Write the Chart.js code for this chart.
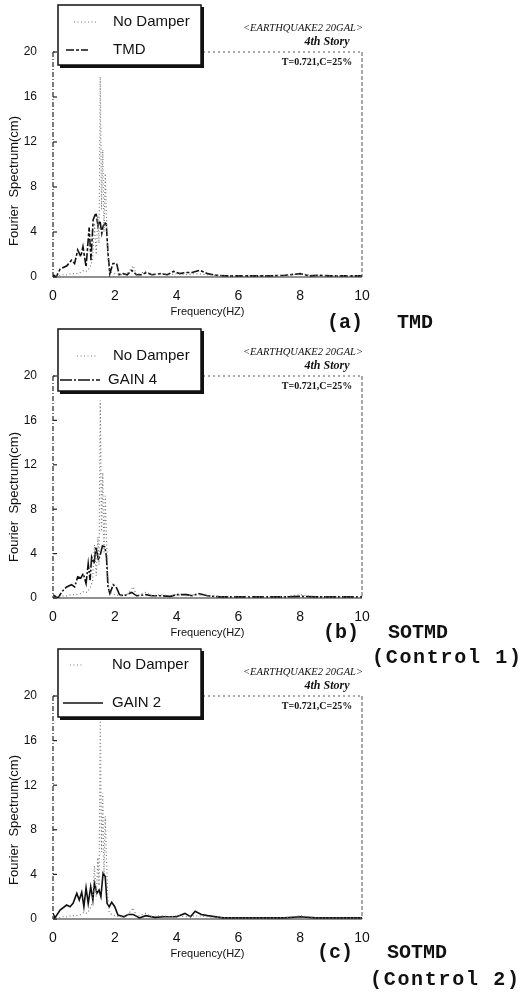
<!DOCTYPE html>
<html>
<head>
<meta charset="utf-8">
<script src="https://cdn.jsdelivr.net/npm/chart.js@4.4.1/dist/chart.umd.min.js"></script>
<style>
  html, body { margin: 0; padding: 0; background: #fff; }
  #wrap { position: relative; width: 526px; height: 996px; overflow: hidden; }
  canvas { position: absolute; left: 0; }
  .cap { position: absolute; font: bold 20px "Liberation Mono", "Courier New", monospace;
         color: #111; white-space: pre; line-height: 22px; }
</style>
</head>
<body>
<div id="wrap">
  <canvas id="chartA" width="526" height="322" style="top:0px"></canvas>
  <canvas id="chartB" width="526" height="320" style="top:322px"></canvas>
  <canvas id="chartC" width="526" height="354" style="top:642px"></canvas>

  <div class="cap" style="left:327px;top:312px">(a)</div>
  <div class="cap" style="left:397px;top:312px">TMD</div>
  <div class="cap" style="left:323px;top:622px">(b)</div>
  <div class="cap" style="left:388px;top:622px">SOTMD</div>
  <div class="cap" style="left:372px;top:647px;letter-spacing:1.7px">(Control 1)</div>
  <div class="cap" style="left:317px;top:942px">(c)</div>
  <div class="cap" style="left:387px;top:942px">SOTMD</div>
  <div class="cap" style="left:370px;top:969px;letter-spacing:1.7px">(Control 2)</div>
</div>

<script>
// Fourier spectra, 4th story, EARTHQUAKE2 20GAL
const xTicks = [0, 2, 4, 6, 8, 10];
const yTicks = [0, 4, 8, 12, 16, 20];

// uncontrolled response (same in all three panels)
const freqNoDamper = [0, 0.1, 0.2, 0.3, 0.45, 0.6, 0.75, 0.9, 1.0, 1.1, 1.2, 1.28, 1.34, 1.4, 1.45, 1.49,
  1.53, 1.57, 1.61, 1.65, 1.69, 1.73, 1.77, 1.82, 1.9, 2.0, 2.2, 2.4, 2.6, 2.7, 3.0, 3.2, 3.5, 3.8, 4.0,
  4.3, 4.6, 5.0, 5.5, 6.0, 6.5, 7.0, 7.5, 8.0, 8.5, 9.0, 9.5, 10];
const noDamper = [0.3, 0.1, 0.1, 0.2, 0.2, 0.3, 0.3, 0.4, 0.6, 0.5, 0.9, 1.5, 4.8, 2.0, 5.5, 3.0,
  17.8, 6.0, 11.3, 4.0, 9.2, 5.5, 2.0, 0.6, 0.4, 0.3, 0.2, 0.3, 1.0, 0.2, 0.5, 0.2, 0.3, 0.2, 0.3,
  0.2, 0.3, 0.2, 0.1, 0.1, 0.1, 0.1, 0.1, 0.3, 0.1, 0.1, 0.1, 0.1];

// (a) TMD
const freqTmd = [0, 0.1, 0.23, 0.45, 0.6, 0.7, 0.8, 0.9, 0.97, 1.07, 1.17, 1.23, 1.3, 1.39, 1.46, 1.52,
  1.58, 1.62, 1.72, 1.78, 1.84, 1.94, 2.06, 2.14, 2.27, 2.4, 2.55, 2.7, 2.85, 3.03, 3.2, 3.5, 3.7, 3.9,
  4.1, 4.3, 4.5, 4.75, 5.0, 5.3, 5.6, 6.0, 6.5, 7.0, 7.5, 8.0, 8.3, 8.6, 9.0, 9.5, 10];
const tmd = [0.2, 0.0, 0.7, 1.0, 1.5, 1.2, 2.4, 1.8, 2.7, 0.9, 4.4, 1.5, 5.1, 5.7, 4.5, 5.0,
  3.9, 4.5, 4.9, 2.1, 0.3, 1.2, 1.2, 0.2, 0.3, 0.2, 0.6, 0.2, 0.2, 0.4, 0.2, 0.3, 0.2, 0.5,
  0.3, 0.4, 0.4, 0.6, 0.3, 0.15, 0.1, 0.1, 0.1, 0.1, 0.15, 0.3, 0.1, 0.15, 0.1, 0.1, 0.1];

// (b) SOTMD control 1
const freqGain4 = [0, 0.17, 0.28, 0.44, 0.6, 0.7, 0.8, 0.9, 0.98, 1.07, 1.14, 1.2, 1.25, 1.33, 1.39, 1.47,
  1.54, 1.6, 1.68, 1.73, 1.78, 1.84, 1.95, 2.06, 2.15, 2.3, 2.55, 2.7, 3.0, 3.2, 3.5, 3.8, 4.0, 4.33,
  4.5, 4.7, 5.0, 5.4, 6.0, 6.5, 7.0, 7.5, 8.0, 8.5, 9.0, 9.5, 10];
const gain4 = [0.27, 0.0, 0.55, 1.0, 1.2, 1.0, 1.9, 1.8, 2.2, 1.3, 3.1, 1.6, 3.7, 3.1, 4.6, 3.4,
  4.0, 4.7, 4.6, 3.7, 1.0, 0.4, 1.2, 0.9, 0.3, 0.2, 0.5, 0.2, 0.3, 0.2, 0.2, 0.15, 0.3, 0.3,
  0.2, 0.4, 0.2, 0.1, 0.1, 0.1, 0.1, 0.1, 0.15, 0.1, 0.1, 0.1, 0.1];

// (c) SOTMD control 2
const freqGain2 = [0, 0.06, 0.23, 0.44, 0.55, 0.65, 0.77, 0.85, 0.93, 1.0, 1.07, 1.14, 1.22, 1.29, 1.34,
  1.42, 1.49, 1.55, 1.62, 1.69, 1.75, 1.82, 1.9, 2.0, 2.1, 2.3, 2.43, 2.6, 2.8, 3.0, 3.3, 3.6, 4.0,
  4.27, 4.45, 4.6, 4.8, 5.0, 5.5, 6.0, 6.5, 7.0, 7.5, 8.0, 8.5, 9.0, 9.5, 10];
const gain2 = [0.5, 0.1, 0.8, 1.25, 1.1, 1.4, 2.3, 1.7, 2.4, 1.1, 2.8, 1.4, 2.9, 1.7, 3.2,
  2.3, 2.6, 2.0, 4.1, 3.8, 1.4, 1.1, 1.5, 1.1, 0.35, 0.2, 0.4, 0.4, 0.1, 0.3, 0.15, 0.2, 0.2,
  0.5, 0.2, 0.7, 0.4, 0.3, 0.1, 0.1, 0.1, 0.1, 0.1, 0.2, 0.1, 0.1, 0.1, 0.1];

const pts = (xs, ys) => xs.map((x, i) => ({ x, y: ys[i] }));

const SANS = '"Liberation Sans", Arial, sans-serif';
const SERIF = '"Liberation Serif", "Times New Roman", serif';

// draws frame, inward ticks, annotation texts, y title and the boxed legend
const panelDecor = {
    id: "panelDecor",
    beforeDatasetsDraw(chart) {
        const { ctx, chartArea: ca } = chart;
        const y = chart.scales.y;
        ctx.save();
        ctx.strokeStyle = "#222";
        ctx.lineWidth = 1.2;
        ctx.setLineDash([5, 2, 1, 2]);
        ctx.beginPath(); ctx.moveTo(ca.left, ca.top); ctx.lineTo(ca.left, ca.bottom); ctx.stroke();
        ctx.strokeStyle = "#555";
        ctx.lineWidth = 1;
        ctx.setLineDash([2, 3]);
        ctx.beginPath(); ctx.moveTo(ca.left, ca.top); ctx.lineTo(ca.right, ca.top); ctx.stroke();
        ctx.setLineDash([4, 2]);
        ctx.beginPath(); ctx.moveTo(ca.right, ca.top); ctx.lineTo(ca.right, ca.bottom); ctx.stroke();
        ctx.setLineDash([]);
        ctx.strokeStyle = "#222";
        ctx.lineWidth = 1.2;
        ctx.beginPath(); ctx.moveTo(ca.left, ca.bottom); ctx.lineTo(ca.right, ca.bottom); ctx.stroke();
        yTicks.forEach(v => {
            const py = y.getPixelForValue(v);
            ctx.beginPath(); ctx.moveTo(ca.left, py); ctx.lineTo(ca.left + 4, py); ctx.stroke();
        });
        ctx.restore();
    },
    afterDraw(chart, args, opts) {
        const { ctx, chartArea: ca } = chart;
        ctx.save();
        ctx.fillStyle = "#111";
        ctx.textBaseline = "middle";

        // y title
        ctx.save();
        ctx.translate(14, ca.top + opts.yTitleOffset);
        ctx.rotate(-Math.PI / 2);
        ctx.textAlign = "center";
        ctx.font = "13px " + SANS;
        ctx.fillText("Fourier  Spectrum(cm)", 0, 0);
        ctx.restore();

        // annotations
        ctx.textAlign = "center";
        ctx.font = "italic 10.5px " + SERIF;
        ctx.fillText("<EARTHQUAKE2 20GAL>", 303, ca.top - 24);
        ctx.font = "italic bold 12px " + SERIF;
        ctx.fillText("4th Story", 327, ca.top - 10);
        ctx.font = "bold 10px " + SERIF;
        ctx.fillText("T=0.721,C=25%", 317, ca.top + 10);

        // legend box
        const lg = opts.legend;
        ctx.fillStyle = "#fff";
        ctx.fillRect(lg.x, lg.top, lg.w, lg.h);
        ctx.fillStyle = "#111";
        ctx.fillRect(lg.x + lg.w, lg.top + 2, 3, lg.h + 1);
        ctx.fillRect(lg.x + 2, lg.top + lg.h, lg.w + 1, 3);
        ctx.strokeStyle = "#111";
        ctx.lineWidth = 1.5;
        ctx.strokeRect(lg.x, lg.top, lg.w, lg.h);

        chart.data.datasets.forEach((ds, i) => {
            const row = lg.rows[i];
            ctx.strokeStyle = ds.borderColor;
            ctx.lineWidth = ds.borderWidth;
            ctx.setLineDash(ds.borderDash || []);
            ctx.beginPath(); ctx.moveTo(row.x0, row.y); ctx.lineTo(row.x1, row.y); ctx.stroke();
            ctx.setLineDash([]);
            ctx.fillStyle = "#111";
            ctx.textAlign = "left";
            ctx.font = "15px " + SANS;
            ctx.fillText(ds.label, row.tx, row.y);
        });
        ctx.restore();
    }
};

function makePanel(id, layout, series) {
    const c = document.getElementById(id);
    const H = c.height;
    return new Chart(c.getContext("2d"), {
        type: "line",
        data: {
            datasets: [
                {
                    label: "No Damper",
                    data: pts(freqNoDamper, noDamper),
                    borderColor: "#7a7a7a",
                    borderWidth: 1.2,
                    borderDash: [1, 2.5],
                },
                {
                    label: series.label,
                    data: pts(series.freq, series.values),
                    borderColor: "#111",
                    borderWidth: 1.6,
                    borderDash: series.dash,
                },
            ],
        },
        options: {
            responsive: false,
            animation: false,
            devicePixelRatio: 1,
            elements: { point: { radius: 0 }, line: { tension: 0 } },
            layout: {
                padding: { top: layout.top, left: 0, right: 164, bottom: H - layout.bottom - 40 },
            },
            plugins: {
                legend: { display: false },
                tooltip: { enabled: false },
                panelDecor: { legend: layout.legend, yTitleOffset: layout.yTitle },
            },
            scales: {
                x: {
                    type: "linear",
                    min: 0, max: 10,
                    afterFit: s => { s.height = 40; },
                    afterBuildTicks: s => { s.ticks = xTicks.map(v => ({ value: v })); },
                    grid: { display: false, drawTicks: false },
                    border: { display: false },
                    ticks: { color: "#111", font: { family: SANS, size: 14 }, padding: 11, maxRotation: 0 },
                    title: { display: true, text: "Frequency(HZ)", color: "#111",
                             font: { family: SANS, size: 11, lineHeight: 1 }, padding: 0 },
                },
                y: {
                    min: 0, max: 20,
                    afterFit: s => { s.width = 53; },
                    afterBuildTicks: s => { s.ticks = yTicks.map(v => ({ value: v })); },
                    grid: { display: false, drawTicks: false },
                    border: { display: false },
                    ticks: { color: "#111", font: { family: SANS, size: 12 }, padding: 16 },
                },
            },
        },
        plugins: [panelDecor],
    });
}

makePanel("chartA",
    { top: 52, bottom: 277, yTitle: 129,
      legend: { x: 58, top: 5, w: 143, h: 60,
                rows: [{ x0: 74, x1: 96, tx: 113, y: 22 }, { x0: 66, x1: 88, tx: 113, y: 50 }] } },
    { label: "TMD", freq: freqTmd, values: tmd, dash: [8, 2, 3, 2] });

makePanel("chartB",
    { top: 54, bottom: 276, yTitle: 121,
      legend: { x: 58, top: 7, w: 143, h: 62,
                rows: [{ x0: 77, x1: 98, tx: 113, y: 34 }, { x0: 60, x1: 100, tx: 108, y: 58 }] } },
    { label: "GAIN 4", freq: freqGain4, values: gain4, dash: [12, 2, 2, 2] });

makePanel("chartC",
    { top: 54, bottom: 277, yTitle: 124,
      legend: { x: 58, top: 7, w: 143, h: 68,
                rows: [{ x0: 70, x1: 82, tx: 112, y: 23 }, { x0: 63, x1: 103, tx: 112, y: 61 }] } },
    { label: "GAIN 2", freq: freqGain2, values: gain2, dash: [] });
</script>
</body>
</html>
